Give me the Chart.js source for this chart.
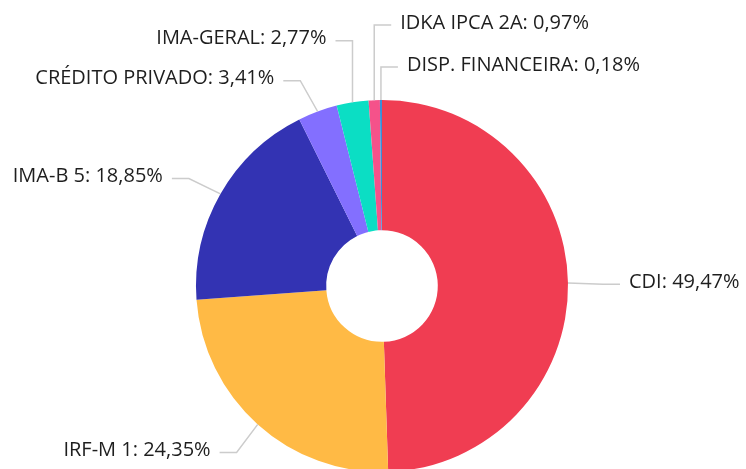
<!DOCTYPE html>
<html>
<head>
<meta charset="utf-8">
<script src="https://cdn.jsdelivr.net/npm/chart.js@4.4.0/dist/chart.umd.min.js"></script>
<style>
  html, body { margin: 0; padding: 0; background: #fff; overflow: hidden; }
  #wrap { position: relative; width: 746px; height: 472px; }
</style>
</head>
<body>
<div id="wrap"><canvas id="chart"></canvas></div>
<script>
// categorias e percentuais da carteira
const categorias = ['CDI', 'IRF-M 1', 'IMA-B 5', 'CRÉDITO PRIVADO', 'IMA-GERAL', 'IDKA IPCA 2A', 'DISP. FINANCEIRA'];
const percentuais = [49.47, 24.35, 18.85, 3.41, 2.77, 0.97, 0.18];
const cores = ['#F03D52', '#FFBA45', '#3333B3', '#836FFF', '#0BDEC4', '#F5528A', '#3A8FD8'];

function fmt(v) {
    return v.toFixed(2).replace('.', ',') + '%';
}

// rótulos externos com linhas de ligação
const rotulosExternos = {
    id: 'rotulosExternos',
    afterDraw(chart) {
        const ctx = chart.ctx;
        const meta = chart.getDatasetMeta(0);
        const R = 221;        // raio onde a linha quebra
        const esq = [], dir = [];

        meta.data.forEach((arc, i) => {
            const p = arc.getProps(['x', 'y', 'startAngle', 'endAngle', 'outerRadius'], true);
            const a = (p.startAngle + p.endAngle) / 2;
            const ex = p.x + p.outerRadius * Math.cos(a);
            const ey = p.y + p.outerRadius * Math.sin(a);
            const item = {
                i, a, ex, ey, cx: p.x, cy: p.y,
                y: p.y + R * Math.sin(a) + 2,
                texto: categorias[i] + ': ' + fmt(percentuais[i])
            };
            if (ex > p.x - 10) {
                item.k = a > Math.PI ? a - 2 * Math.PI : a;
                dir.push(item);
            } else {
                item.k = -a;
                esq.push(item);
            }
        });

        function distribuir(lista, espaco) {
            lista.sort((m, n) => m.k - n.k);
            for (let j = lista.length - 2; j >= 0; j--) {
                lista[j].y = Math.min(lista[j].y, lista[j + 1].y - espaco);
            }
        }
        distribuir(dir, 42);
        distribuir(esq, 40);

        ctx.save();
        ctx.font = '20px "Open Sans"';
        ctx.textBaseline = 'middle';
        ctx.lineWidth = 1.5;

        function desenhar(item, lado) {
            const dy = item.y - item.cy;
            let bx;
            if (Math.abs(dy) >= R * 0.95) {
                bx = item.ex;   // fatias do topo: linha vertical
            } else {
                bx = item.cx + lado * Math.sqrt(R * R - dy * dy);
            }
            ctx.strokeStyle = '#cccccc';
            ctx.beginPath();
            ctx.moveTo(item.ex, item.ey);
            ctx.lineTo(bx, item.y);
            ctx.lineTo(bx + lado * 17, item.y);
            ctx.stroke();
            ctx.fillStyle = '#1e1e1e';
            ctx.textAlign = lado > 0 ? 'left' : 'right';
            ctx.fillText(item.texto, bx + lado * 26, item.y - 2);
        }
        dir.forEach(it => desenhar(it, 1));
        esq.forEach(it => desenhar(it, -1));
        ctx.restore();
    }
};

const ctx = document.getElementById('chart').getContext('2d');
const myChart = new Chart(ctx, {
    type: 'doughnut',
    data: {
        labels: categorias,
        datasets: [{
            data: percentuais,
            backgroundColor: cores,
            borderWidth: 0
        }]
    },
    options: {
        responsive: true,
        maintainAspectRatio: false,
        animation: false,
        cutout: '30%',
        layout: { padding: { top: 100, left: 18, right: 0, bottom: 0 } },
        plugins: {
            legend: { display: false },
            tooltip: { enabled: false }
        }
    },
    plugins: [rotulosExternos]
});
</script>
</body>
</html>
